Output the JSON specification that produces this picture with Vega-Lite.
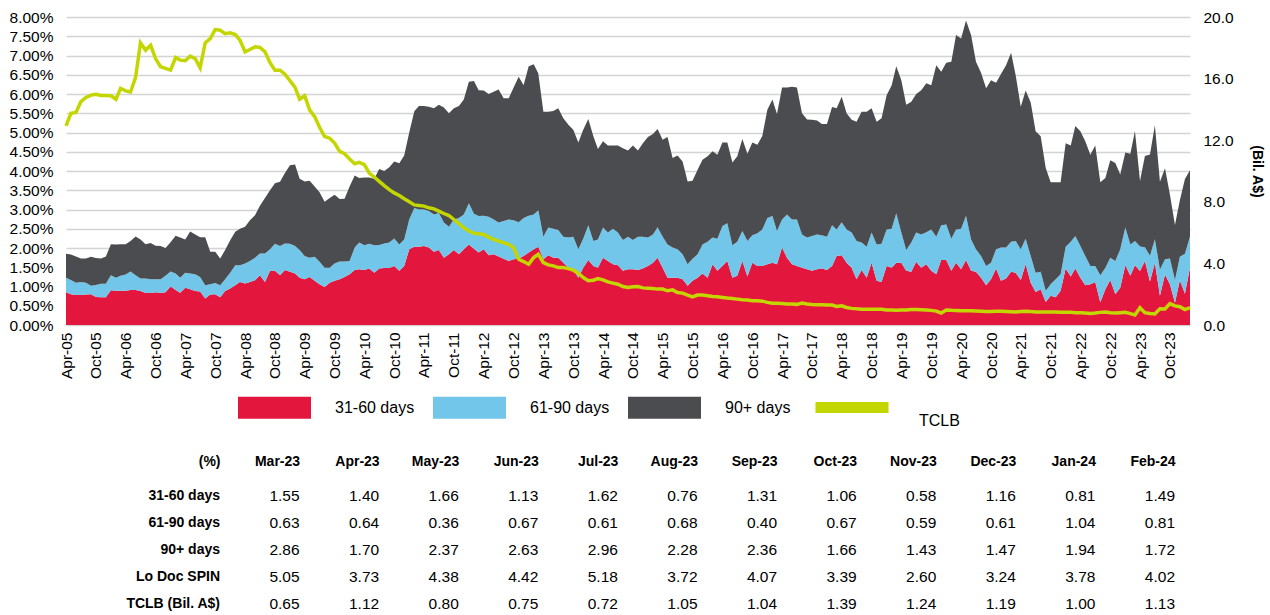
{
"$schema": "https://vega.github.io/schema/vega-lite/v6.json",
"padding": {"left": 9, "top": 10, "right": 5, "bottom": 0},
"config": {"view": {"stroke": null}, "font": "Liberation Sans", "axis": {"labelColor": "#000", "titleColor": "#000"}, "legend": {"labelColor": "#000"}, "text": {"color": "#000"}},
"datasets": {
"series": [
{"m":"2005-04","a":0.85,"b":0.38,"c":0.62,"t":12.93},
{"m":"2005-05","a":0.80,"b":0.37,"c":0.66,"t":13.75},
{"m":"2005-06","a":0.78,"b":0.32,"c":0.68,"t":13.8},
{"m":"2005-07","a":0.78,"b":0.34,"c":0.61,"t":14.5},
{"m":"2005-08","a":0.79,"b":0.31,"c":0.63,"t":14.78},
{"m":"2005-09","a":0.80,"b":0.22,"c":0.75,"t":14.93},
{"m":"2005-10","a":0.73,"b":0.31,"c":0.70,"t":14.98},
{"m":"2005-11","a":0.72,"b":0.35,"c":0.66,"t":14.91},
{"m":"2005-12","a":0.72,"b":0.35,"c":0.71,"t":14.91},
{"m":"2006-01","a":0.90,"b":0.39,"c":0.81,"t":14.89},
{"m":"2006-02","a":0.89,"b":0.34,"c":0.86,"t":14.66},
{"m":"2006-03","a":0.89,"b":0.39,"c":0.82,"t":15.37},
{"m":"2006-04","a":0.89,"b":0.42,"c":0.79,"t":15.2},
{"m":"2006-05","a":0.91,"b":0.48,"c":0.79,"t":15.13},
{"m":"2006-06","a":0.91,"b":0.38,"c":1.01,"t":16.08},
{"m":"2006-07","a":0.88,"b":0.33,"c":1.01,"t":18.32},
{"m":"2006-08","a":0.83,"b":0.38,"c":0.89,"t":17.84},
{"m":"2006-09","a":0.83,"b":0.36,"c":0.94,"t":18.17},
{"m":"2006-10","a":0.85,"b":0.34,"c":0.87,"t":17.3},
{"m":"2006-11","a":0.83,"b":0.36,"c":0.86,"t":16.77},
{"m":"2006-12","a":0.85,"b":0.43,"c":0.72,"t":16.66},
{"m":"2007-01","a":1.00,"b":0.39,"c":0.76,"t":16.55},
{"m":"2007-02","a":0.91,"b":0.43,"c":0.98,"t":17.37},
{"m":"2007-03","a":0.84,"b":0.39,"c":1.04,"t":17.2},
{"m":"2007-04","a":0.97,"b":0.39,"c":0.86,"t":17.16},
{"m":"2007-05","a":0.93,"b":0.41,"c":1.09,"t":17.46},
{"m":"2007-06","a":0.88,"b":0.44,"c":1.03,"t":17.3},
{"m":"2007-07","a":0.87,"b":0.38,"c":1.03,"t":16.7},
{"m":"2007-08","a":0.69,"b":0.34,"c":1.25,"t":18.32},
{"m":"2007-09","a":0.79,"b":0.27,"c":0.84,"t":18.6},
{"m":"2007-10","a":0.80,"b":0.29,"c":0.81,"t":19.18},
{"m":"2007-11","a":0.72,"b":0.31,"c":0.70,"t":19.14},
{"m":"2007-12","a":0.88,"b":0.31,"c":0.76,"t":18.92},
{"m":"2008-01","a":0.95,"b":0.41,"c":0.84,"t":18.97},
{"m":"2008-02","a":1.03,"b":0.52,"c":0.87,"t":18.86},
{"m":"2008-03","a":1.12,"b":0.43,"c":0.95,"t":18.49},
{"m":"2008-04","a":1.08,"b":0.52,"c":0.95,"t":17.74},
{"m":"2008-05","a":1.12,"b":0.54,"c":1.06,"t":17.89},
{"m":"2008-06","a":1.16,"b":0.59,"c":1.10,"t":18.06},
{"m":"2008-07","a":1.29,"b":0.57,"c":1.24,"t":18.02},
{"m":"2008-08","a":1.12,"b":0.74,"c":1.44,"t":17.74},
{"m":"2008-09","a":1.41,"b":0.56,"c":1.53,"t":17.03},
{"m":"2008-10","a":1.41,"b":0.70,"c":1.57,"t":16.55},
{"m":"2008-11","a":1.29,"b":0.76,"c":1.67,"t":16.55},
{"m":"2008-12","a":1.43,"b":0.69,"c":1.83,"t":16.29},
{"m":"2009-01","a":1.38,"b":0.73,"c":2.04,"t":15.86},
{"m":"2009-02","a":1.34,"b":0.71,"c":2.12,"t":15.43},
{"m":"2009-03","a":1.23,"b":0.72,"c":1.85,"t":14.66},
{"m":"2009-04","a":1.19,"b":0.60,"c":1.94,"t":14.89},
{"m":"2009-05","a":1.25,"b":0.50,"c":2.00,"t":13.97},
{"m":"2009-06","a":1.15,"b":0.62,"c":1.83,"t":13.53},
{"m":"2009-07","a":1.06,"b":0.58,"c":1.81,"t":12.84},
{"m":"2009-08","a":0.99,"b":0.50,"c":1.71,"t":12.24},
{"m":"2009-09","a":1.10,"b":0.39,"c":1.81,"t":12.13},
{"m":"2009-10","a":1.15,"b":0.45,"c":1.78,"t":11.81},
{"m":"2009-11","a":1.19,"b":0.46,"c":1.62,"t":11.27},
{"m":"2009-12","a":1.25,"b":0.40,"c":1.63,"t":11.12},
{"m":"2010-01","a":1.32,"b":0.34,"c":1.94,"t":10.78},
{"m":"2010-02","a":1.43,"b":0.58,"c":1.87,"t":10.47},
{"m":"2010-03","a":1.45,"b":0.69,"c":1.68,"t":10.56},
{"m":"2010-04","a":1.43,"b":0.64,"c":1.76,"t":10.41},
{"m":"2010-05","a":1.47,"b":0.64,"c":1.72,"t":9.87},
{"m":"2010-06","a":1.36,"b":0.71,"c":1.73,"t":9.61},
{"m":"2010-07","a":1.47,"b":0.61,"c":1.97,"t":9.33},
{"m":"2010-08","a":1.48,"b":0.64,"c":1.88,"t":9.05},
{"m":"2010-09","a":1.48,"b":0.66,"c":1.96,"t":8.79},
{"m":"2010-10","a":1.53,"b":0.72,"c":2.00,"t":8.58},
{"m":"2010-11","a":1.41,"b":0.68,"c":2.11,"t":8.41},
{"m":"2010-12","a":1.53,"b":0.69,"c":2.18,"t":8.2},
{"m":"2011-01","a":1.97,"b":0.77,"c":2.26,"t":8.0},
{"m":"2011-02","a":2.03,"b":1.01,"c":2.51,"t":7.8},
{"m":"2011-03","a":2.03,"b":0.97,"c":2.69,"t":7.76},
{"m":"2011-04","a":2.05,"b":0.95,"c":2.69,"t":7.72},
{"m":"2011-05","a":2.01,"b":0.95,"c":2.71,"t":7.61},
{"m":"2011-06","a":1.90,"b":0.97,"c":2.76,"t":7.54},
{"m":"2011-07","a":1.95,"b":0.96,"c":2.81,"t":7.39},
{"m":"2011-08","a":1.75,"b":0.91,"c":2.99,"t":7.24},
{"m":"2011-09","a":1.84,"b":0.71,"c":2.95,"t":7.11},
{"m":"2011-10","a":1.95,"b":0.79,"c":2.89,"t":6.85},
{"m":"2011-11","a":1.84,"b":0.94,"c":2.91,"t":6.59},
{"m":"2011-12","a":1.97,"b":0.90,"c":2.99,"t":6.31},
{"m":"2012-01","a":2.09,"b":1.07,"c":3.16,"t":6.10},
{"m":"2012-02","a":1.98,"b":0.91,"c":3.45,"t":5.95},
{"m":"2012-03","a":1.88,"b":0.95,"c":3.27,"t":5.93},
{"m":"2012-04","a":1.97,"b":0.87,"c":3.25,"t":5.88},
{"m":"2012-05","a":1.81,"b":1.00,"c":3.19,"t":5.71},
{"m":"2012-06","a":1.84,"b":0.90,"c":3.32,"t":5.56},
{"m":"2012-07","a":1.78,"b":0.88,"c":3.46,"t":5.45},
{"m":"2012-08","a":1.72,"b":0.98,"c":3.19,"t":5.34},
{"m":"2012-09","a":1.66,"b":1.08,"c":3.15,"t":5.24},
{"m":"2012-10","a":1.71,"b":1.01,"c":3.45,"t":5.02},
{"m":"2012-11","a":1.72,"b":0.95,"c":3.78,"t":4.27},
{"m":"2012-12","a":1.79,"b":0.99,"c":3.45,"t":4.12},
{"m":"2013-01","a":1.88,"b":0.96,"c":3.88,"t":3.94},
{"m":"2013-02","a":1.97,"b":0.90,"c":3.90,"t":4.38},
{"m":"2013-03","a":2.03,"b":0.95,"c":3.55,"t":4.59},
{"m":"2013-04","a":1.71,"b":0.58,"c":3.25,"t":4.05},
{"m":"2013-05","a":1.81,"b":0.72,"c":3.01,"t":3.90},
{"m":"2013-06","a":1.75,"b":0.75,"c":3.06,"t":3.84},
{"m":"2013-07","a":1.75,"b":0.72,"c":3.16,"t":3.73},
{"m":"2013-08","a":1.62,"b":0.67,"c":3.08,"t":3.73},
{"m":"2013-09","a":1.49,"b":0.78,"c":2.93,"t":3.66},
{"m":"2013-10","a":1.45,"b":0.84,"c":2.78,"t":3.56},
{"m":"2013-11","a":1.23,"b":0.74,"c":2.77,"t":3.36},
{"m":"2013-12","a":1.49,"b":0.75,"c":2.83,"t":3.08},
{"m":"2014-01","a":1.69,"b":0.90,"c":2.76,"t":2.87},
{"m":"2014-02","a":1.53,"b":0.65,"c":2.72,"t":2.91},
{"m":"2014-03","a":1.49,"b":0.73,"c":2.35,"t":3.02},
{"m":"2014-04","a":1.75,"b":0.78,"c":2.24,"t":2.93},
{"m":"2014-05","a":1.66,"b":0.74,"c":2.26,"t":2.80},
{"m":"2014-06","a":1.58,"b":0.92,"c":2.16,"t":2.72},
{"m":"2014-07","a":1.55,"b":0.85,"c":2.26,"t":2.65},
{"m":"2014-08","a":1.41,"b":0.80,"c":2.38,"t":2.50},
{"m":"2014-09","a":1.45,"b":0.84,"c":2.24,"t":2.44},
{"m":"2014-10","a":1.45,"b":0.76,"c":2.45,"t":2.48},
{"m":"2014-11","a":1.43,"b":0.86,"c":2.24,"t":2.50},
{"m":"2014-12","a":1.47,"b":0.82,"c":2.43,"t":2.41},
{"m":"2015-01","a":1.53,"b":0.74,"c":2.61,"t":2.39},
{"m":"2015-02","a":1.62,"b":0.73,"c":2.61,"t":2.37},
{"m":"2015-03","a":1.75,"b":0.79,"c":2.55,"t":2.33},
{"m":"2015-04","a":1.49,"b":0.80,"c":2.52,"t":2.33},
{"m":"2015-05","a":1.23,"b":0.86,"c":2.79,"t":2.22},
{"m":"2015-06","a":1.23,"b":0.78,"c":2.33,"t":2.28},
{"m":"2015-07","a":1.23,"b":0.74,"c":2.43,"t":2.11},
{"m":"2015-08","a":1.19,"b":0.65,"c":2.41,"t":2.07},
{"m":"2015-09","a":1.02,"b":0.56,"c":2.15,"t":1.94},
{"m":"2015-10","a":1.15,"b":0.57,"c":2.03,"t":1.83},
{"m":"2015-11","a":1.23,"b":0.61,"c":2.19,"t":1.94},
{"m":"2015-12","a":1.34,"b":0.75,"c":2.20,"t":1.94},
{"m":"2016-01","a":1.23,"b":0.93,"c":2.22,"t":1.90},
{"m":"2016-02","a":1.58,"b":0.69,"c":2.24,"t":1.85},
{"m":"2016-03","a":1.41,"b":0.83,"c":2.18,"t":1.83},
{"m":"2016-04","a":1.53,"b":1.04,"c":2.17,"t":1.79},
{"m":"2016-05","a":1.66,"b":0.98,"c":2.10,"t":1.75},
{"m":"2016-06","a":1.23,"b":0.84,"c":2.15,"t":1.72},
{"m":"2016-07","a":1.28,"b":0.88,"c":2.22,"t":1.68},
{"m":"2016-08","a":1.66,"b":0.78,"c":2.39,"t":1.64},
{"m":"2016-09","a":1.26,"b":0.92,"c":2.27,"t":1.62},
{"m":"2016-10","a":1.62,"b":0.71,"c":2.41,"t":1.57},
{"m":"2016-11","a":1.53,"b":0.85,"c":2.30,"t":1.57},
{"m":"2016-12","a":1.53,"b":0.95,"c":2.43,"t":1.55},
{"m":"2017-01","a":1.58,"b":1.20,"c":2.81,"t":1.47},
{"m":"2017-02","a":1.62,"b":1.21,"c":3.03,"t":1.42},
{"m":"2017-03","a":1.58,"b":0.86,"c":3.04,"t":1.42},
{"m":"2017-04","a":2.01,"b":0.73,"c":3.43,"t":1.40},
{"m":"2017-05","a":1.75,"b":1.12,"c":3.30,"t":1.36},
{"m":"2017-06","a":1.58,"b":1.16,"c":3.45,"t":1.36},
{"m":"2017-07","a":1.53,"b":1.21,"c":3.43,"t":1.34},
{"m":"2017-08","a":1.49,"b":0.86,"c":3.15,"t":1.42},
{"m":"2017-09","a":1.45,"b":0.82,"c":3.07,"t":1.36},
{"m":"2017-10","a":1.41,"b":0.90,"c":3.02,"t":1.33},
{"m":"2017-11","a":1.45,"b":0.90,"c":2.96,"t":1.32},
{"m":"2017-12","a":1.47,"b":0.86,"c":2.89,"t":1.31},
{"m":"2018-01","a":1.43,"b":0.86,"c":2.93,"t":1.30},
{"m":"2018-02","a":1.53,"b":1.06,"c":3.07,"t":1.30},
{"m":"2018-03","a":1.79,"b":0.69,"c":3.15,"t":1.21},
{"m":"2018-04","a":1.81,"b":0.86,"c":3.26,"t":1.25},
{"m":"2018-05","a":1.62,"b":0.86,"c":3.02,"t":1.14},
{"m":"2018-06","a":1.49,"b":0.91,"c":2.93,"t":1.08},
{"m":"2018-07","a":1.19,"b":0.99,"c":3.10,"t":1.05},
{"m":"2018-08","a":1.43,"b":0.71,"c":3.40,"t":1.03},
{"m":"2018-09","a":1.23,"b":0.80,"c":3.51,"t":1.02},
{"m":"2018-10","a":1.62,"b":0.78,"c":3.23,"t":1.02},
{"m":"2018-11","a":1.15,"b":0.94,"c":3.19,"t":1.03},
{"m":"2018-12","a":1.12,"b":0.99,"c":3.26,"t":1.02},
{"m":"2019-01","a":1.53,"b":0.95,"c":3.49,"t":0.98},
{"m":"2019-02","a":1.49,"b":1.01,"c":3.73,"t":0.97},
{"m":"2019-03","a":1.62,"b":1.28,"c":3.82,"t":0.96},
{"m":"2019-04","a":1.62,"b":0.78,"c":3.96,"t":0.97},
{"m":"2019-05","a":1.41,"b":0.54,"c":3.77,"t":0.97},
{"m":"2019-06","a":1.38,"b":0.76,"c":3.66,"t":1.00},
{"m":"2019-07","a":1.64,"b":0.76,"c":3.60,"t":1.00},
{"m":"2019-08","a":1.49,"b":0.86,"c":3.75,"t":0.99},
{"m":"2019-09","a":1.58,"b":0.83,"c":3.87,"t":0.98},
{"m":"2019-10","a":1.41,"b":1.07,"c":3.75,"t":0.95},
{"m":"2019-11","a":1.32,"b":0.97,"c":4.46,"t":0.90},
{"m":"2019-12","a":1.69,"b":0.90,"c":3.99,"t":0.78},
{"m":"2020-01","a":1.69,"b":0.92,"c":4.20,"t":0.97},
{"m":"2020-02","a":1.41,"b":0.83,"c":4.60,"t":0.95},
{"m":"2020-03","a":1.62,"b":0.86,"c":5.05,"t":0.94},
{"m":"2020-04","a":1.45,"b":1.05,"c":4.94,"t":0.92},
{"m":"2020-05","a":1.69,"b":1.15,"c":5.07,"t":0.93},
{"m":"2020-06","a":1.41,"b":0.81,"c":5.31,"t":0.92},
{"m":"2020-07","a":1.38,"b":0.59,"c":4.87,"t":0.91},
{"m":"2020-08","a":1.23,"b":0.56,"c":4.76,"t":0.90},
{"m":"2020-09","a":1.03,"b":0.50,"c":4.62,"t":0.88},
{"m":"2020-10","a":1.19,"b":0.43,"c":4.74,"t":0.87},
{"m":"2020-11","a":1.47,"b":0.50,"c":4.32,"t":0.90},
{"m":"2020-12","a":1.15,"b":0.86,"c":4.51,"t":0.89},
{"m":"2021-01","a":1.21,"b":0.80,"c":4.74,"t":0.88},
{"m":"2021-02","a":1.38,"b":0.78,"c":4.91,"t":0.86},
{"m":"2021-03","a":1.36,"b":0.82,"c":4.31,"t":0.84},
{"m":"2021-04","a":1.17,"b":0.80,"c":3.70,"t":0.88},
{"m":"2021-05","a":1.58,"b":0.66,"c":3.85,"t":0.90},
{"m":"2021-06","a":1.10,"b":0.69,"c":3.99,"t":0.87},
{"m":"2021-07","a":0.86,"b":0.50,"c":3.67,"t":0.85},
{"m":"2021-08","a":0.93,"b":0.45,"c":3.52,"t":0.84},
{"m":"2021-09","a":0.60,"b":0.29,"c":3.19,"t":0.84},
{"m":"2021-10","a":0.76,"b":0.30,"c":2.65,"t":0.85},
{"m":"2021-11","a":0.72,"b":0.47,"c":2.52,"t":0.84},
{"m":"2021-12","a":0.89,"b":0.43,"c":2.39,"t":0.83},
{"m":"2022-01","a":1.47,"b":0.56,"c":2.69,"t":0.83},
{"m":"2022-02","a":1.26,"b":0.90,"c":2.50,"t":0.82},
{"m":"2022-03","a":1.47,"b":0.84,"c":2.86,"t":0.80},
{"m":"2022-04","a":1.23,"b":0.82,"c":2.98,"t":0.79},
{"m":"2022-05","a":1.03,"b":0.76,"c":2.98,"t":0.78},
{"m":"2022-06","a":1.06,"b":0.47,"c":2.89,"t":0.75},
{"m":"2022-07","a":1.12,"b":0.41,"c":3.13,"t":0.78},
{"m":"2022-08","a":0.59,"b":0.70,"c":2.42,"t":0.82},
{"m":"2022-09","a":0.93,"b":0.56,"c":2.33,"t":0.84},
{"m":"2022-10","a":1.17,"b":0.58,"c":2.53,"t":0.80},
{"m":"2022-11","a":0.80,"b":0.86,"c":2.55,"t":0.78},
{"m":"2022-12","a":0.97,"b":1.00,"c":1.94,"t":0.80},
{"m":"2023-01","a":1.55,"b":0.98,"c":1.95,"t":0.82},
{"m":"2023-02","a":1.28,"b":0.81,"c":2.36,"t":0.74},
{"m":"2023-03","a":1.55,"b":0.63,"c":2.86,"t":0.65},
{"m":"2023-04","a":1.40,"b":0.64,"c":1.70,"t":1.12},
{"m":"2023-05","a":1.66,"b":0.36,"c":2.37,"t":0.80},
{"m":"2023-06","a":1.13,"b":0.67,"c":2.63,"t":0.75},
{"m":"2023-07","a":1.62,"b":0.61,"c":2.96,"t":0.72},
{"m":"2023-08","a":0.76,"b":0.68,"c":2.28,"t":1.05},
{"m":"2023-09","a":1.31,"b":0.40,"c":2.36,"t":1.04},
{"m":"2023-10","a":1.06,"b":0.67,"c":1.66,"t":1.39},
{"m":"2023-11","a":0.58,"b":0.59,"c":1.43,"t":1.24},
{"m":"2023-12","a":1.16,"b":0.61,"c":1.47,"t":1.19},
{"m":"2024-01","a":0.81,"b":1.04,"c":1.94,"t":1.00},
{"m":"2024-02","a":1.49,"b":0.81,"c":1.72,"t":1.13}
],
"tbl": [
{"row":"31-60 days","Mar-23":1.55,"Apr-23":1.40,"May-23":1.66,"Jun-23":1.13,"Jul-23":1.62,"Aug-23":0.76,"Sep-23":1.31,"Oct-23":1.06,"Nov-23":0.58,"Dec-23":1.16,"Jan-24":0.81,"Feb-24":1.49},
{"row":"61-90 days","Mar-23":0.63,"Apr-23":0.64,"May-23":0.36,"Jun-23":0.67,"Jul-23":0.61,"Aug-23":0.68,"Sep-23":0.40,"Oct-23":0.67,"Nov-23":0.59,"Dec-23":0.61,"Jan-24":1.04,"Feb-24":0.81},
{"row":"90+ days","Mar-23":2.86,"Apr-23":1.70,"May-23":2.37,"Jun-23":2.63,"Jul-23":2.96,"Aug-23":2.28,"Sep-23":2.36,"Oct-23":1.66,"Nov-23":1.43,"Dec-23":1.47,"Jan-24":1.94,"Feb-24":1.72},
{"row":"Lo Doc SPIN","Mar-23":5.05,"Apr-23":3.73,"May-23":4.38,"Jun-23":4.42,"Jul-23":5.18,"Aug-23":3.72,"Sep-23":4.07,"Oct-23":3.39,"Nov-23":2.60,"Dec-23":3.24,"Jan-24":3.78,"Feb-24":4.02},
{"row":"TCLB (Bil. A$)","Mar-23":0.65,"Apr-23":1.12,"May-23":0.80,"Jun-23":0.75,"Jul-23":0.72,"Aug-23":1.05,"Sep-23":1.04,"Oct-23":1.39,"Nov-23":1.24,"Dec-23":1.19,"Jan-24":1.00,"Feb-24":1.13}
]
},
"spacing": 75,
"vconcat": [
{
"width": 1124,
"height": 308,
"data": {"name": "series"},
"encoding": {
"x": {"field": "m", "type": "temporal", "scale": {"padding": 0},
"axis": {"title": null, "grid": false, "ticks": false, "domain": false, "format": "%b-%y", "labelAngle": 270, "labelAlign": "right", "labelBaseline": "middle", "labelFontSize": 15.5, "labelPadding": 7, "labelFlush": false, "labelOverlap": false, "labelSeparation": 0, "labelBound": false,
"values": [{"year":2005,"month":4},{"year":2005,"month":10},{"year":2006,"month":4},{"year":2006,"month":10},{"year":2007,"month":4},{"year":2007,"month":10},{"year":2008,"month":4},{"year":2008,"month":10},{"year":2009,"month":4},{"year":2009,"month":10},{"year":2010,"month":4},{"year":2010,"month":10},{"year":2011,"month":4},{"year":2011,"month":10},{"year":2012,"month":4},{"year":2012,"month":10},{"year":2013,"month":4},{"year":2013,"month":10},{"year":2014,"month":4},{"year":2014,"month":10},{"year":2015,"month":4},{"year":2015,"month":10},{"year":2016,"month":4},{"year":2016,"month":10},{"year":2017,"month":4},{"year":2017,"month":10},{"year":2018,"month":4},{"year":2018,"month":10},{"year":2019,"month":4},{"year":2019,"month":10},{"year":2020,"month":4},{"year":2020,"month":10},{"year":2021,"month":4},{"year":2021,"month":10},{"year":2022,"month":4},{"year":2022,"month":10},{"year":2023,"month":4},{"year":2023,"month":10}]}}
},
"layer": [
{
"transform": [{"fold": ["a", "b", "c"], "as": ["k", "v"]}],
"mark": {"type": "area", "interpolate": "linear"},
"encoding": {
"y": {"field": "v", "type": "quantitative", "stack": "zero", "scale": {"domain": [0, 8], "nice": false},
"axis": {"title": null, "values": [0,0.5,1,1.5,2,2.5,3,3.5,4,4.5,5,5.5,6,6.5,7,7.5,8], "labelExpr": "format(datum.value, '.2f') + '%'", "grid": true, "gridColor": "#d4d4d4", "gridWidth": 1.5, "ticks": false, "domain": false, "labelFontSize": 15.5, "labelPadding": 13}},
"fill": {"field": "k", "type": "nominal", "scale": {"domain": ["a", "b", "c"], "range": ["#e3173e", "#72c6e9", "#4a4c4f"]},
"legend": {"title": null, "orient": "none", "legendX": 172, "legendY": 354, "direction": "horizontal", "columns": 3, "padding": 0, "symbolType": "M-1,-0.3014H1V0.3014H-1Z", "symbolSize": 5329, "symbolStrokeWidth": 0, "labelFontSize": 16, "labelOffset": 24, "columnPadding": 18,
"labelExpr": "datum.label == 'a' ? '31-60 days' : datum.label == 'b' ? '61-90 days' : '90+ days'"}},
"order": {"field": "k", "sort": "ascending"}
}
},
{
"mark": {"type": "line", "strokeWidth": 3.5, "interpolate": "linear"},
"encoding": {
"y": {"field": "t", "type": "quantitative", "scale": {"domain": [0, 20], "nice": false},
"axis": {"orient": "right", "title": "(Bil. A$)", "titleFontSize": 14, "titleFontWeight": "bold", "titlePadding": 16, "values": [0, 4, 8, 12, 16, 20], "format": ".1f", "grid": false, "ticks": false, "domain": false, "labelFontSize": 15.5, "labelPadding": 13}},
"stroke": {"datum": "TCLB", "type": "nominal", "scale": {"domain": ["TCLB"], "range": ["#c4d600"]},
"legend": {"title": null, "orient": "none", "legendX": 744, "legendY": 354, "padding": 0, "symbolType": "M-1,-0.15H1", "symbolSize": 5329, "symbolStrokeWidth": 11, "labelFontSize": 16, "labelOffset": 25, "labelBaseline": "top"}}
}
}
],
"resolve": {"scale": {"y": "independent"}}
},
{
"width": 1124,
"height": 135,
"data": {"name": "tbl"},
"layer": [
{
"mark": {"type": "text", "align": "right", "baseline": "middle", "fontWeight": "bold", "fontSize": 14},
"encoding": {
"x": {"datum": "(%)", "type": "nominal", "scale": {"type": "point", "domain": ["(%)","Mar-23","Apr-23","May-23","Jun-23","Jul-23","Aug-23","Sep-23","Oct-23","Nov-23","Dec-23","Jan-24","Feb-24"], "range": [154, 1109], "padding": 0}},
"y": {"field": "row", "type": "nominal", "scale": {"type": "point", "domain": ["31-60 days","61-90 days","90+ days","Lo Doc SPIN","TCLB (Bil. A$)"], "padding": 0.5}, "axis": null},
"text": {"field": "row"}
}
},
{
"transform": [{"fold": ["Mar-23","Apr-23","May-23","Jun-23","Jul-23","Aug-23","Sep-23","Oct-23","Nov-23","Dec-23","Jan-24","Feb-24"], "as": ["col", "val"]}],
"mark": {"type": "text", "align": "right", "baseline": "middle", "fontSize": 15.5},
"encoding": {
"x": {"field": "col", "type": "nominal", "scale": {"type": "point", "domain": ["(%)","Mar-23","Apr-23","May-23","Jun-23","Jul-23","Aug-23","Sep-23","Oct-23","Nov-23","Dec-23","Jan-24","Feb-24"], "range": [154, 1109], "padding": 0},
"axis": {"orient": "top", "title": null, "ticks": false, "tickSize": 0, "domain": false, "grid": false, "labelAngle": 0, "labelAlign": "right", "labelFontWeight": "bold", "labelFontSize": 14, "labelPadding": 21, "labelOverlap": false}},
"y": {"field": "row", "type": "nominal", "scale": {"type": "point", "domain": ["31-60 days","61-90 days","90+ days","Lo Doc SPIN","TCLB (Bil. A$)"], "padding": 0.5}, "axis": null},
"text": {"field": "val", "type": "quantitative", "format": ".2f"}
}
}
]
}
]
}
